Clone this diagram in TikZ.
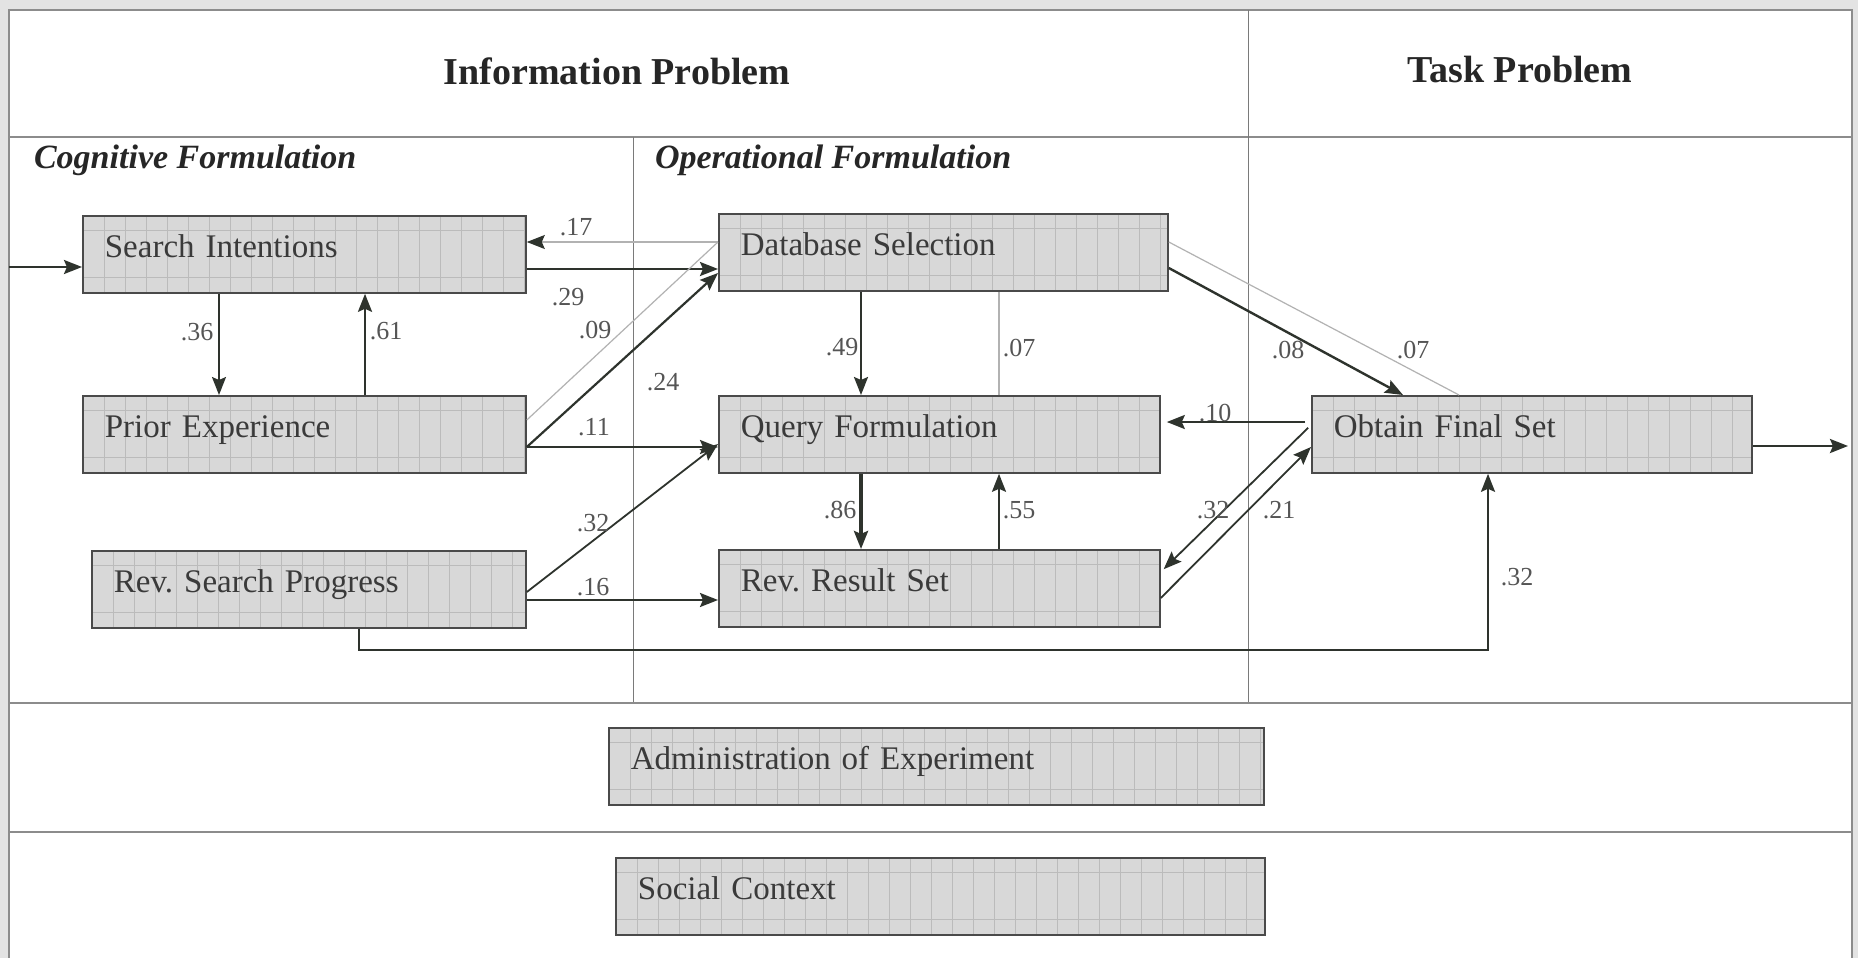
\documentclass[tikz,border=0pt]{standalone}
\usepackage{fontspec}
\setmainfont{Liberation Serif}
\usetikzlibrary{arrows.meta}
\frenchspacing

\definecolor{bgc}{HTML}{E3E3E3}
\definecolor{framec}{HTML}{8C8C8C}
\definecolor{rulec}{HTML}{7A7A7A}
\definecolor{ink}{HTML}{2E332D}
\definecolor{lightink}{HTML}{B2B2B2}
\definecolor{boxfill}{HTML}{D8D8D8}
\definecolor{boxline}{HTML}{4A4A4A}
\definecolor{gridc}{HTML}{BBBBBB}
\definecolor{txt}{HTML}{3A3A3A}
\definecolor{labc}{HTML}{555555}

\tikzset{
  gridline/.style={draw=gridc, line width=0.4pt},
  gridfill/.style={path picture={
      \foreach \k in {1,...,32}{
        \draw[gridline] ([xshift=\k*10.5pt]path picture bounding box.south west)
          -- ([xshift=\k*10.5pt]path picture bounding box.north west);}
      \draw[gridline] ([yshift=-7pt]path picture bounding box.north west)
          -- ([yshift=-7pt]path picture bounding box.north east);
      \draw[gridline] ([yshift=8pt]path picture bounding box.south west)
          -- ([yshift=8pt]path picture bounding box.south east);
  }},
  box/.style={draw=boxline, line width=0.9pt, fill=boxfill, gridfill,
    anchor=north west, inner xsep=11pt, inner ysep=0pt,
    minimum height=38.5pt, text height=11pt, text depth=7.5pt,
    align=left, text=txt, font=\fontsize{16.5}{20}\selectfont},
  head/.style={text=black!85, font=\fontsize{19}{22}\selectfont\bfseries},
  subhead/.style={text=black!85, anchor=base west,
    font=\fontsize{17}{20}\selectfont\bfseries\itshape},
  lab/.style={text=labc, inner sep=0.5pt, font=\fontsize{13}{15}\selectfont},
  tip/.style={-{Stealth[length=9pt,width=7pt,inset=1.5pt]}},
  arr/.style={draw=ink, line width=1pt, tip},
  lightarr/.style={draw=lightink, line width=0.6pt,
    -{Stealth[length=9pt,width=7pt,inset=1.5pt,color=ink]}},
  lightline/.style={draw=lightink, line width=0.6pt},
}

\begin{document}
\begin{tikzpicture}[x=0.5pt,y=-0.5pt]
\useasboundingbox (0,0) rectangle (1858,958);

% page and table frame
\fill[bgc] (0,0) rectangle (1858,958);
\fill[white] (9,10) rectangle (1852,958);
\draw[framec, line width=1.1pt] (9,958) -- (9,10) -- (1852,10) -- (1852,958);
\draw[framec, line width=1pt] (9,137) -- (1852,137);
\draw[rulec, line width=0.5pt] (1248,10) -- (1248,703);
\draw[rulec, line width=0.5pt] (633,137) -- (633,703);
\draw[framec, line width=1.4pt] (9,703) -- (1852,703);
\draw[framec, line width=1.4pt] (9,832) -- (1852,832);

% headings
\node[head] (hinfo) at (617,71) {Information Problem};
\node[head] (htask) at (1520,70) {Task Problem};
\node[subhead] (hcog) at (27,168) {Cognitive Formulation};
\node[subhead] (hop) at (648,168) {Operational Formulation};

% process boxes
\node[box, text width=199.5pt] (si)  at (82,215)   {Search Intentions};
\node[box, text width=202.5pt] (ds)  at (718,213)  {Database Selection};
\node[box, text width=199.5pt] (pe)  at (82,395)   {Prior Experience};
\node[box, text width=198.5pt] (qf)  at (718,395)  {Query Formulation};
\node[box, text width=198pt]   (ofs) at (1311,395) {Obtain Final Set};
\node[box, text width=195pt]   (rsp) at (91,550)   {Rev. Search Progress};
\node[box, text width=198.5pt] (rrs) at (718,549)  {Rev. Result Set};
\node[box, text width=305.5pt] (adm) at (608,727)  {Administration of Experiment};
\node[box, text width=302.5pt] (soc) at (615,857)  {Social Context};

% free ends and bend points
\coordinate (entry) at (9,267);
\coordinate (exit) at (1848,446);
\coordinate (b1) at (359,650);
\coordinate (b2) at (1488,650);

% connectors
\draw[arr, line width=1.3pt] (entry) -- (entry -| si.west);
\draw[arr, line width=1.3pt] (ofs.east |- exit) -- (exit);

\draw[arr, line width=1.3pt] (si.east |- 0,269) -- (ds.west |- 0,269);
\draw[lightarr] (ds.west |- 0,242) -- (si.east |- 0,242);
\draw[arr, line width=0.9pt] (si.south -| 219,0) -- (pe.north -| 219,0);
\draw[arr, line width=1.2pt] (pe.north -| 365,0) -- (si.south -| 365,0);

\draw[lightline] (pe.east |- 0,420) -- (ds.west |- 0,242);
\draw[arr, line width=1.1pt] (pe.east |- 0,447) -- (ds.west |- 0,273);
\draw[arr, line width=1.2pt] (pe.east |- 0,447) -- (qf.west |- 0,447);
\draw[arr, line width=0.9pt] (rsp.east |- 0,592) -- (qf.west |- 0,444);
\draw[arr, line width=1.1pt] (rsp.east |- 0,600) -- (rrs.west |- 0,600);

\draw[arr, line width=1.1pt] (ds.south -| 861,0) -- (qf.north -| 861,0);
\draw[lightline] (ds.south -| 999,0) -- (qf.north -| 999,0);
\draw[arr, line width=1.8pt] (qf.south -| 861,0) -- (rrs.north -| 861,0);
\draw[arr, line width=1.1pt] (rrs.north -| 999,0) -- (qf.south -| 999,0);

\draw[arr, line width=1.2pt, shorten <=3pt, shorten >=3pt] (ofs.west |- 0,422) -- (qf.east |- 0,422);
\draw[arr, line width=0.9pt, shorten <=2pt, shorten >=2pt] (ofs.west |- 0,425) -- (rrs.east |- 0,572);
\draw[arr, line width=0.9pt] (rrs.east |- 0,598) -- (ofs.west |- 0,447);

\draw[arr, line width=1.2pt] (ds.east |- 0,268) -- (ofs.north -| 1403,0);
\draw[lightline] (ds.east |- 0,242) -- (ofs.north -| 1459,0);

\draw[arr, line width=1.1pt] (rsp.south -| b1) -- (b1) -- (b2) -- (ofs.south -| b2);

% path coefficients
\node[lab] (l17) at (576,227) {.17};
\node[lab] (l29) at (568,297) {.29};
\node[lab] (l09) at (595,330) {.09};
\node[lab] (l24) at (663,382) {.24};
\node[lab] (l11) at (594,427) {.11};
\node[lab] (l36) at (197,332) {.36};
\node[lab] (l61) at (386,331) {.61};
\node[lab] (l32a) at (593,523) {.32};
\node[lab] (l16) at (593,587) {.16};
\node[lab] (l49) at (842,347) {.49};
\node[lab] (l07a) at (1019,348) {.07};
\node[lab] (l86) at (840,510) {.86};
\node[lab] (l55) at (1019,510) {.55};
\node[lab] (l10) at (1215,413) {.10};
\node[lab] (l32b) at (1213,510) {.32};
\node[lab] (l21) at (1279,510) {.21};
\node[lab] (l08) at (1288,350) {.08};
\node[lab] (l07b) at (1413,350) {.07};
\node[lab] (l32c) at (1517,577) {.32};
\end{tikzpicture}
\end{document}
